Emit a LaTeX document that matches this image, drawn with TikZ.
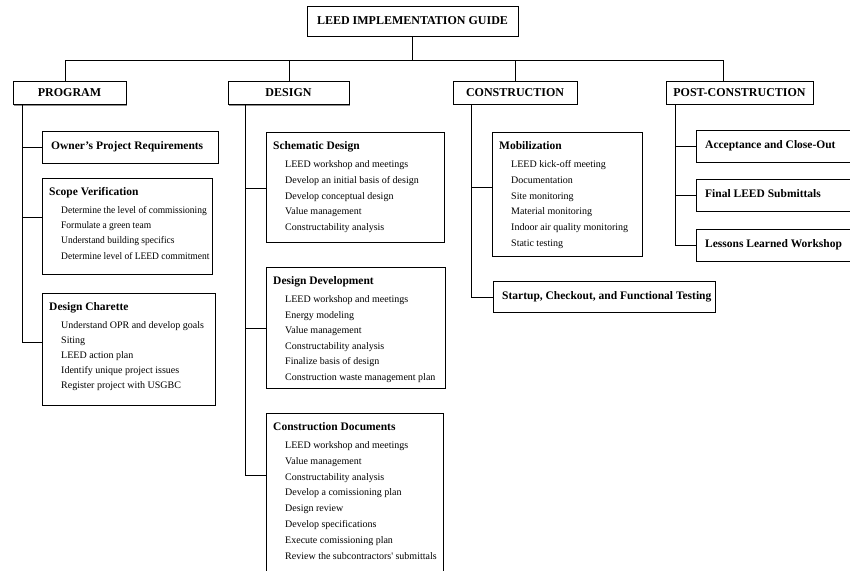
\documentclass[tikz,border=0pt]{standalone}
\usepackage{fontspec}
\setmainfont{Liberation Serif}
\newfontfamily\itemfont{Liberation Serif}
\newfontfamily\narrowitemfont[FakeStretch=0.95]{Liberation Serif}
\usetikzlibrary{shadows}
\newcommand\blist[8]{%
  \node[box, minimum width=#4pt, minimum height=#5pt] (#1) at (#2,#3) {};
  \node[ttl] at ({#2+7},{#3+15}) {#6};
  \foreach \t [count=\i] in {#7} \node[itm] at ({#2+19},{#3+33+(\i-1)*#8}) {\t};
}
\newcommand\bsingle[6]{%
  \node[box, minimum width=#4pt, minimum height=#5pt] (#1) at (#2,#3) {};
  \node[ttl] at ({#2+9},{#3+#5/2}) {#6};
}
\begin{document}
\begin{tikzpicture}[x=1pt,y=-1pt,
  shd/.style={drop shadow={shadow xshift=1pt, shadow yshift=-1pt, fill=black!45, opacity=1}},
  box/.style={draw, fill=white, line width=0.9pt, inner sep=0pt, anchor=north west, shd},
  hbox/.style={draw, fill=white, line width=0.9pt, inner sep=0pt, minimum height=23pt, font=\fontsize{12}{14}\selectfont\bfseries, shd},
  conn/.style={line width=0.9pt},
  ttl/.style={font=\fontsize{11.5}{13}\selectfont\bfseries, anchor=west, inner sep=0pt, text height=7.5pt, text depth=2.5pt},
  itmbase/.style={anchor=west, inner sep=0pt, text height=7pt, text depth=2pt},
  itm/.style={itmbase, font=\fontsize{10}{12}\itemfont},
]
\useasboundingbox (0,0) rectangle (850,570);
\clip (0,0) rectangle (850,570);

% top
\node[hbox, minimum width=211pt, minimum height=30pt] (top) at (412.5,21) {LEED IMPLEMENTATION GUIDE};

% phase headers
\node[hbox, minimum width=113pt] (prog) at (69.5,93) {PROGRAM};
\node[hbox, minimum width=121pt] (des)  at (288.5,93) {DESIGN};
\node[hbox, minimum width=124pt] (cons) at (515,92.5) {CONSTRUCTION};
\node[hbox, minimum width=147pt] (post) at (739.5,92.5) {POST-CONSTRUCTION};

% bus
\coordinate (d1) at (65,60);
\coordinate (d2) at (289,60);
\coordinate (d3) at (515,60);
\coordinate (d4) at (723,60);
\draw[conn] (top.south) -- (top.south |- d1);
\draw[conn] (d1) -- (d4);
\draw[conn] (d1) -- (d1 |- prog.north);
\draw[conn] (d2) -- (d2 |- des.north);
\draw[conn] (d3) -- (d3 |- cons.north);
\draw[conn] (d4) -- (d4 |- post.north);

% PROGRAM column
\bsingle{opr}{42}{131}{176}{32}{Owner's Project Requirements}
\begin{scope}[itm/.style={itmbase, font=\fontsize{10}{12}\narrowitemfont}]
\blist{sv}{42}{178}{170}{96}{Scope Verification}{Determine the level of commissioning,Formulate a green team,Understand building specifics,Determine level of LEED commitment}{15.2}
\end{scope}
\blist{dc}{42}{293}{173}{112}{Design Charette}{Understand OPR and develop goals,Siting,LEED action plan,Identify unique project issues,Register project with USGBC}{15}
\coordinate (ps) at (22,104.5);
\draw[conn] (ps) -- (ps |- 0,342) -- (dc.west |- 0,342);
\draw[conn] (ps |- opr.west) -- (opr.west);
\draw[conn] (ps |- 0,217) -- (sv.west |- 0,217);

% DESIGN column
\blist{sd}{266}{132}{178}{110}{Schematic Design}{LEED workshop and meetings,Develop an initial basis of design,Develop conceptual design,Value management,Constructability analysis}{15.8}
\blist{dd}{266}{267}{179}{121}{Design Development}{LEED workshop and meetings,Energy modeling,Value management,Constructability analysis,Finalize basis of design,Construction waste management plan}{15.5}
\blist{cd}{266}{413}{177}{170}{Construction Documents}{LEED workshop and meetings,Value management,Constructability analysis,Develop a comissioning plan,Design review,Develop specifications,Execute comissioning plan,Review the subcontractors' submittals}{15.8}
\coordinate (ds) at (245,104.5);
\draw[conn] (ds) -- (ds |- 0,475) -- (cd.west |- 0,475);
\draw[conn] (ds |- 0,188) -- (sd.west |- 0,188);
\draw[conn] (ds |- 0,328) -- (dd.west |- 0,328);

% CONSTRUCTION column
\blist{mob}{492}{132}{150}{124}{Mobilization}{LEED kick-off meeting,Documentation,Site monitoring,Material monitoring,Indoor air quality monitoring,Static testing}{15.8}
\bsingle{sft}{493}{281}{222}{31}{Startup, Checkout, and Functional Testing}
\coordinate (cs) at (471,104);
\draw[conn] (cs) -- (cs |- sft.west) -- (sft.west);
\draw[conn] (cs |- 0,187) -- (mob.west |- 0,187);

% POST-CONSTRUCTION column
\bsingle{acc}{696}{130}{170}{32}{Acceptance and Close-Out}
\bsingle{fls}{696}{179}{170}{32}{Final LEED Submittals}
\bsingle{llw}{696}{229}{170}{32}{Lessons Learned Workshop}
\coordinate (qs) at (675,104);
\draw[conn] (qs) -- (qs |- llw.west) -- (llw.west);
\draw[conn] (qs |- acc.west) -- (acc.west);
\draw[conn] (qs |- fls.west) -- (fls.west);
\end{tikzpicture}
\end{document}
